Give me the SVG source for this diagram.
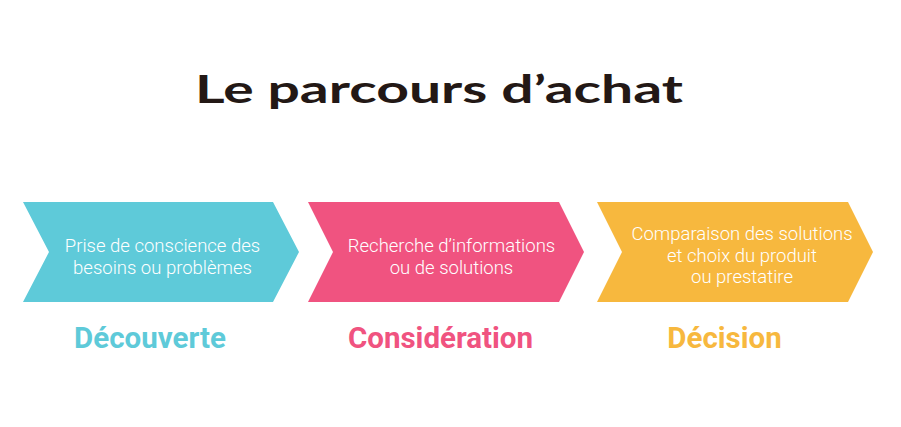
<svg xmlns="http://www.w3.org/2000/svg" width="901" height="427" viewBox="0 0 901 427">
<style>
.body{font-family:Roboto,"Liberation Sans",sans-serif;font-weight:300;font-size:18.5px;fill:#ffffff;text-anchor:middle}
.lab{font-family:Roboto,"Liberation Sans",sans-serif;font-weight:bold;font-size:29.5px;text-anchor:middle}
.title{font-family:"Comic Sans MS",Lato,"Liberation Sans",sans-serif;font-weight:bold;font-size:39px;fill:#231815}
</style>
<rect width="901" height="427" fill="#ffffff"/>
<text class="title" x="195" y="103" textLength="488" lengthAdjust="spacingAndGlyphs">Le parcours d’achat</text>
<g id="connectors"></g>
<g id="step1">
<polygon points="23,202 273,202 299,252 273,302 23,302 49,252" fill="#5ECAD9"/>
<text class="body" x="162.5" y="252">Prise de conscience des</text>
<text class="body" x="162.5" y="274">besoins ou problèmes</text>
<text class="lab" x="150" y="348" fill="#5ECAD9">Découverte</text>
</g>
<g id="step2">
<polygon points="308,202 559,202 584,252 559,302 308,302 333,252" fill="#F05380"/>
<text class="body" x="451.5" y="252">Recherche d’informations</text>
<text class="body" x="451.5" y="274">ou de solutions</text>
<text class="lab" x="440.5" y="348" fill="#F05380">Considération</text>
</g>
<g id="step3">
<polygon points="597,202 848,202 873,252 848,302 597,302 622,252" fill="#F7B83E"/>
<text class="body" x="742" y="240">Comparaison des solutions</text>
<text class="body" x="742" y="262">et choix du produit</text>
<text class="body" x="742" y="283">ou prestatire</text>
<text class="lab" x="724.5" y="348" fill="#F7B83E">Décision</text>
</g>
</svg>
